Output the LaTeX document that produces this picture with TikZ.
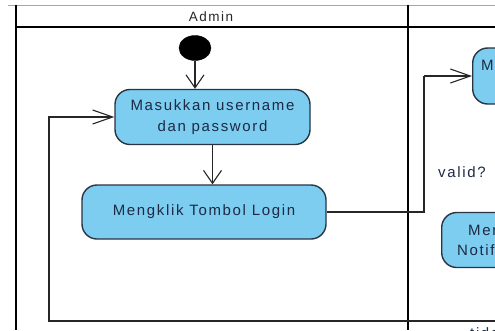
\documentclass[tikz,border=0pt]{standalone}
\usepackage{fontspec}
\setmainfont{Liberation Sans}[LetterSpace=11]
\usetikzlibrary{arrows.meta,shapes.geometric}
\definecolor{actfill}{HTML}{7CCDF0}
\definecolor{actline}{HTML}{2A3442}
\definecolor{acttext}{HTML}{1E2A44}
\tikzset{
  act/.style={draw=actline, fill=actfill, line width=1.4pt, rounded corners=15pt, inner sep=0pt, font=\fontsize{15}{21}\selectfont, text=acttext, align=center},
  lbl/.style={inner sep=0pt, font=\fontsize{15}{21}\selectfont, text=acttext},
  lane/.style={line width=2.6pt, black},
  conn/.style={line width=1.1pt, draw=black!85},
  varr/.style={-{Straight Barb[length=13pt,width=18pt,line width=1.1pt]}},
  harr/.style={-{Straight Barb[length=20pt,width=14pt,line width=1.1pt]}},
}
\begin{document}
\begin{tikzpicture}[x=1pt,y=-1pt]
\useasboundingbox (0,0) rectangle (495,330);
\clip (0,0) rectangle (495,330);
\fill[white] (0,0) rectangle (495,330);
% swimlane frame
\draw[gray!70, line width=1pt] (8,5) -- (495,5);
\draw[lane] (16,5) -- (16,330);
\draw[lane] (408,5) -- (408,330);
\draw[lane] (16,27) -- (495,27);
\node[lbl, font=\fontsize{13.5}{16}\selectfont, text=black!85] (admin) at (211,17) {Admin};
% nodes
\node[draw=black, fill=black, ellipse, minimum width=32pt, minimum height=25pt, inner sep=0pt] (start) at (195,48) {};
\node[act, minimum width=195pt, minimum height=55pt] (n1) at (212.5,117) {Masukkan username\\dan password};
\node[act, minimum width=244pt, minimum height=54pt] (n2) at (204,212) {Mengklik Tombol Login};
\node[act, anchor=west, minimum width=100pt, minimum height=56pt] (n3) at (472,76) {};
\node[lbl, anchor=west] (n3t) at (481,65) {M};
\node[act, anchor=west, minimum width=100pt, minimum height=55pt] (n4) at (441,240) {};
\node[lbl, anchor=west] (n4a) at (468,230) {Men};
\node[lbl, anchor=west] (n4b) at (457,250) {Notif};
\node[lbl, anchor=base west] (valid) at (438,177) {valid?};
\node[lbl, anchor=base west] (tidak) at (470,338) {tida};
% connectors
\coordinate (loopR) at (495,321);
\coordinate (loopBL) at (49,321);
\coordinate (loopTL) at (49,117);
\coordinate (up) at (424,212);
\coordinate (upT) at (424,76);
\draw[conn, varr] (start) -- (start |- n1.north);
\draw[conn, varr] (n1.south) -- (n1.south |- n2.north);
\draw[conn] (n2.east) -- (up) -- (upT);
\draw[conn, harr] (upT) -- (n3.west);
\draw[conn, harr] (loopR) -- (loopBL) -- (loopTL) -- (n1.west);
\end{tikzpicture}
\end{document}
